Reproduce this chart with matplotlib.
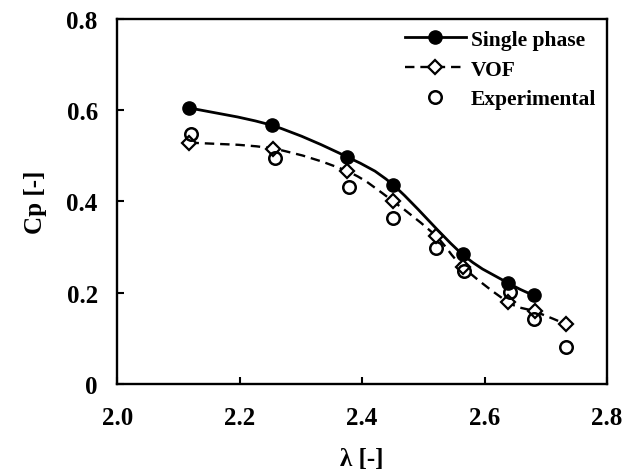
import matplotlib.pyplot as plt
import numpy as np
from matplotlib.path import Path
from matplotlib.patches import PathPatch
from matplotlib.lines import Line2D

plt.rcParams["font.family"] = ["Liberation Serif", "DejaVu Serif"]
plt.rcParams["font.weight"] = "bold"

tsr_single = [2.118, 2.252, 2.375, 2.450, 2.564, 2.639, 2.680]
cp_single = [0.605, 0.567, 0.498, 0.437, 0.284, 0.221, 0.194]

tsr_vof = [2.118, 2.254, 2.376, 2.450, 2.520, 2.564, 2.639, 2.682, 2.733]
cp_vof = [0.529, 0.516, 0.466, 0.401, 0.325, 0.257, 0.179, 0.159, 0.131]

tsr_exp = [2.120, 2.257, 2.379, 2.450, 2.521, 2.566, 2.642, 2.681, 2.733]
cp_exp = [0.549, 0.496, 0.432, 0.363, 0.299, 0.248, 0.201, 0.143, 0.080]


def smooth_path(xs, ys):
    # Excel-like smoothed line: cubic Bezier segments through the points
    p = np.column_stack([xs, ys])
    verts = [p[0]]
    codes = [Path.MOVETO]
    n = len(p)
    for i in range(n - 1):
        p0 = p[i - 1] if i > 0 else p[i]
        p3 = p[i + 2] if i + 2 < n else p[i + 1]
        c1 = p[i] + (p[i + 1] - p0) / 6
        c2 = p[i + 1] - (p3 - p[i]) / 6
        verts += [c1, c2, p[i + 1]]
        codes += [Path.CURVE4] * 3
    return Path(verts, codes)


fig = plt.figure(figsize=(6.37, 4.77), dpi=100)
ax = fig.add_axes([0.184, 0.193, 0.769, 0.765])

ax.add_patch(PathPatch(smooth_path(tsr_single, cp_single), fill=False,
                       edgecolor="black", linewidth=2.0))
ax.add_patch(PathPatch(smooth_path(tsr_vof, cp_vof), fill=False,
                       edgecolor="black", linewidth=1.7, linestyle=(0, (4, 2.5))))

ax.plot(tsr_single, cp_single, "o", color="black", markersize=9.5, zorder=3)
ax.plot(tsr_vof, cp_vof, "D", mfc="white", mec="black", mew=1.6,
        markersize=7.5, zorder=3)
ax.plot(tsr_exp, cp_exp, "o", mfc="none", mec="black", mew=1.8,
        markersize=9, zorder=4)

ax.set_xlim(2.0, 2.8)
ax.set_ylim(0, 0.8)
ax.set_xticks([2.0, 2.2, 2.4, 2.6, 2.8])
ax.set_xticklabels(["2.0", "2.2", "2.4", "2.6", "2.8"])
ax.set_yticks([0, 0.2, 0.4, 0.6, 0.8])
ax.set_yticklabels(["0", "0.2", "0.4", "0.6", "0.8"])
ax.tick_params(direction="in", length=5, width=1.5, labelsize=18, pad=14)
ax.tick_params(axis="x", pad=16)
for s in ax.spines.values():
    s.set_linewidth(1.7)

ax.set_xlabel("λ [-]", fontsize=18, fontweight="bold", labelpad=13)
ax.set_ylabel("Cp [-]", fontsize=18, fontweight="bold", labelpad=14)

handles = [
    Line2D([], [], color="black", linewidth=2.0, marker="o", markersize=9.5),
    Line2D([], [], color="black", linewidth=1.7, linestyle=(0, (4, 2.5)),
           marker="D", mfc="white", mec="black", mew=1.6, markersize=7.5),
    Line2D([], [], linestyle="none", marker="o", mfc="none", mec="black",
           mew=1.8, markersize=9),
]
ax.legend(handles, ["Single phase", "VOF", "Experimental"], loc="upper right",
          frameon=False, fontsize=15.5, handlelength=2.8, handletextpad=0.25,
          labelspacing=0.45, borderaxespad=0.1)

fig.savefig("out.png", dpi=100)
